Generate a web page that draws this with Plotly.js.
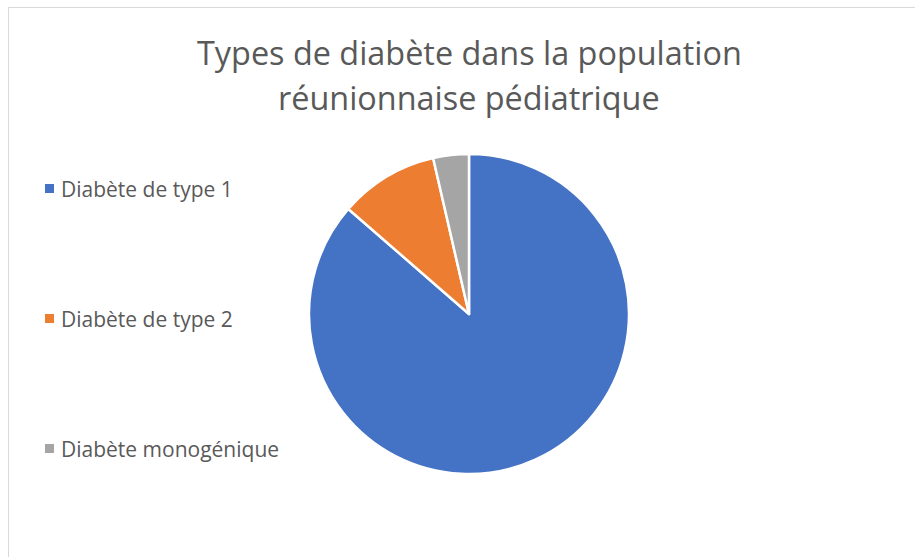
<!DOCTYPE html>
<html>
<head>
<meta charset="utf-8">
<script src="https://cdn.plot.ly/plotly-3.0.1.min.js"></script>
<style>
  html, body { margin: 0; padding: 0; background: #fff; }
  #wrap { position: relative; width: 915px; height: 557px; overflow: hidden; }
  #frame { position: absolute; left: 8px; top: 7px; width: 1000px; height: 1000px; border: 1.5px solid #d9d9d9; box-sizing: border-box; pointer-events: none; }
  #chart { position: absolute; left: 0; top: 0; width: 915px; height: 557px; }
</style>
</head>
<body>
<div id="wrap">
  <div id="chart"></div>
  <div id="frame"></div>
</div>
<script>
// Data
const categories = ["Diabète de type 1", "Diabète de type 2", "Diabète monogénique"];
const values = [86.4, 10.0, 3.6];
const colors = ["#4472C4", "#ED7D31", "#A5A5A5"];
const titleLines = ["Types de diabète dans la population", "réunionnaise pédiatrique"];

const W = 915, H = 557;
const px = x => x / W;
const py = y => 1 - y / H;

const FONT = "Open Sans, Lato, sans-serif";
const TXT = "#595959";

// pie geometry (pixels)
const cx = 469, cy = 314, r = 160;

const trace = {
  type: "pie",
  labels: categories,
  values: values,
  sort: false,
  direction: "clockwise",
  rotation: 0,
  marker: { colors: colors, line: { color: "#ffffff", width: 2.5 } },
  textinfo: "none",
  hoverinfo: "label+percent",
  showlegend: false,
  domain: { x: [px(cx - r), px(cx + r)], y: [py(cy + r), py(cy - r)] }
};

const legendY = [189, 319, 449];
const annotations = [];
const shapes = [];

titleLines.forEach((t, i) => {
  annotations.push({
    text: t, xref: "paper", yref: "paper",
    x: px(469), y: py([52, 97][i]),
    xanchor: "center", yanchor: "middle",
    showarrow: false,
    font: { family: FONT, size: 32.4, color: TXT }
  });
});

categories.forEach((c, i) => {
  annotations.push({
    text: c, xref: "paper", yref: "paper",
    x: px(59), y: py(legendY[i]),
    xanchor: "left", yanchor: "middle",
    showarrow: false,
    font: { family: FONT, size: 21, color: TXT }
  });
  shapes.push({
    type: "rect", xref: "paper", yref: "paper",
    x0: px(45), x1: px(54), y0: py(legendY[i] - 5), y1: py(legendY[i] + 4),
    fillcolor: colors[i], line: { width: 0 }
  });
});

const layout = {
  width: W, height: H,
  margin: { l: 0, r: 0, t: 0, b: 0 },
  paper_bgcolor: "#ffffff",
  showlegend: false,
  annotations: annotations,
  shapes: shapes
};

Plotly.newPlot("chart", [trace], layout, { displayModeBar: false, staticPlot: true });
</script>
</body>
</html>
